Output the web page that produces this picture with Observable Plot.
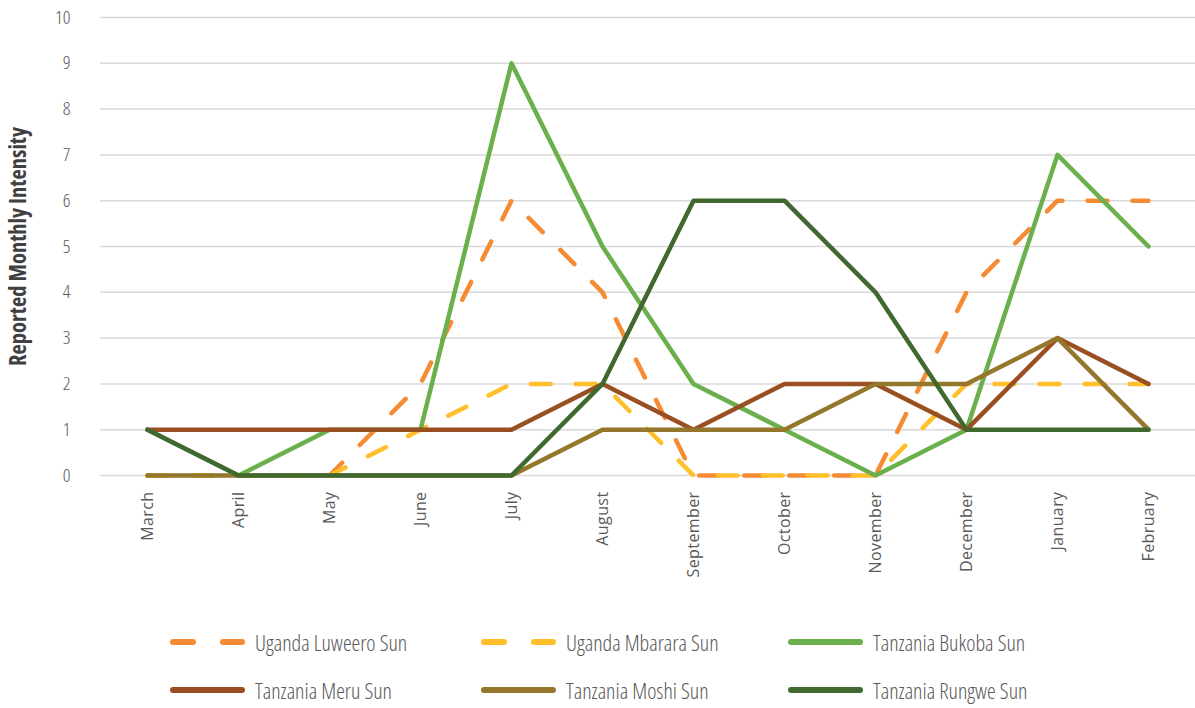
<!DOCTYPE html>
<html><head><meta charset="utf-8">
<script src="https://cdn.jsdelivr.net/npm/d3@7"></script>
<script src="https://cdn.jsdelivr.net/npm/@observablehq/plot@0.6"></script>
<style>
body{margin:0;background:#fff;}
#chart{position:relative;width:1195px;height:708px;overflow:hidden;color:#595959;}
#chart svg.plot{display:block;}
g[aria-label="y-axis tick label"] text{font-family:"Open Sans",sans-serif;font-stretch:75%;font-weight:300;font-size:19px;fill:#595959;}
g[aria-label="x-axis tick label"] text{font-family:"Open Sans",sans-serif;font-size:16px;fill:#595959;letter-spacing:0.4px;}
.ytitle text{font-family:"Open Sans",sans-serif;font-stretch:75%;font-weight:700;font-size:22.5px;}
.legend-item{position:absolute;display:flex;align-items:center;height:26px;font-family:"Open Sans",sans-serif;font-stretch:75%;font-weight:300;font-size:22px;color:#595959;white-space:nowrap;}
.legend-item svg{margin-right:10px;}
</style></head><body><div id="chart"></div>
<script>
const months = ["March","April","May","June","July","August","September","October","November","December","January","February"];
const seriesNames = ["Uganda Luweero Sun","Uganda Mbarara Sun","Tanzania Bukoba Sun","Tanzania Meru Sun","Tanzania Moshi Sun","Tanzania Rungwe Sun"];
const luweero = [0,0,0,2,6,4,0,0,0,4,6,6];
const mbarara = [0,0,0,1,2,2,0,0,0,2,2,2];
const bukoba  = [1,0,1,1,9,5,2,1,0,1,7,5];
const meru    = [1,1,1,1,1,2,1,2,2,1,3,2];
const moshi   = [0,0,0,0,0,1,1,1,2,2,3,1];
const rungwe  = [1,0,0,0,0,2,6,6,4,1,1,1];
const yTicks = [0,1,2,3,4,5,6,7,8,9,10];
const seriesValues = [luweero, mbarara, bukoba, meru, moshi, rungwe];
const colors = ["#F58B33","#FFBF2A","#6AB04C","#9A4F22","#94772A","#41692F"];
const dashed = [true,true,false,false,false,false];

const lineMarks = seriesNames.map((name, i) => {
  const rows = months.map((m, j) => ({month: m, value: seriesValues[i][j], series: name}));
  return Plot.line(rows, {
    x: "month", y: "value",
    stroke: colors[i], strokeWidth: 4.5,
    strokeDasharray: dashed[i] ? "20,25" : null,
    strokeLinecap: "round", strokeLinejoin: "round"
  });
});

const chart = Plot.plot({
  width: 1195, height: 610,
  marginLeft: 100, marginRight: 0, marginTop: 17, marginBottom: 135,
  style: {background: "#fff", color: "#595959", fontFamily: "'Open Sans', sans-serif", overflow: "visible"},
  x: {type: "point", domain: months, padding: 0.5},
  y: {domain: [0, 10]},
  marks: [
    Plot.gridY(yTicks, {stroke: "#d9d9d9", strokeOpacity: 1, strokeWidth: 1.5}),
    Plot.axisY(yTicks, {tickSize: 0, tickPadding: 30, label: null, fill: "#595959"}),
    Plot.axisX({tickRotate: -90, tickSize: 0, tickPadding: 16, label: null, fill: "#595959"}),
    Plot.text(["Reported Monthly Intensity"], {frameAnchor: "left", dx: -82, rotate: -90, textAnchor: "middle", fill: "#404040", className: "ytitle"}),
    ...lineMarks
  ]
});
const root = document.getElementById("chart");
root.appendChild(chart);

const legendCols = [170, 481, 788];
const legendRows = [642, 690];
seriesNames.forEach((name, i) => {
  const item = document.createElement("div");
  item.className = "legend-item";
  item.style.left = legendCols[i % 3] + "px";
  item.style.top = (legendRows[Math.floor(i / 3)] - 13) + "px";
  const dash = dashed[i] ? ' stroke-dasharray="20,30"' : '';
  item.innerHTML = `<svg width="75" height="10"><line x1="3" x2="72" y1="5" y2="5" stroke="${colors[i]}" stroke-width="6" stroke-linecap="round"${dash}/></svg><span>${name}</span>`;
  root.appendChild(item);
});
</script>
</body></html>
